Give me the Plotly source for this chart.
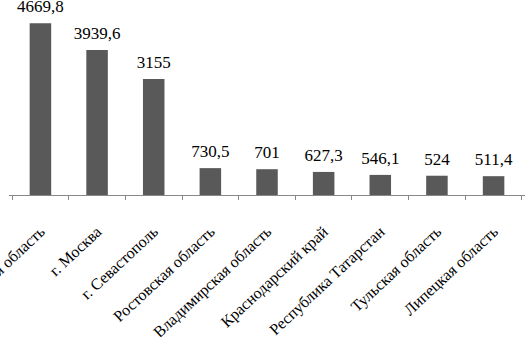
import plotly.graph_objects as go

categories = ["Московская область", "г. Москва", "г. Севастополь", "Ростовская область",
              "Владимирская область", "Краснодарский край", "Республика Татарстан",
              "Тульская область", "Липецкая область"]
values = [4669.8, 3939.6, 3155, 730.5, 701, 627.3, 546.1, 524, 511.4]
value_labels = ["4669,8", "3939,6", "3155", "730,5", "701", "627,3", "546,1", "524", "511,4"]

FONT = "Liberation Serif"

fig = go.Figure()
fig.add_trace(go.Bar(x=categories, y=values, marker=dict(color="#595959", line=dict(width=0)),
                     hoverinfo="skip"))
fig.add_trace(go.Scatter(x=categories, y=values, text=value_labels, mode="markers+text",
                         textposition="top center", cliponaxis=False,
                         marker=dict(size=9, opacity=0), hoverinfo="skip",
                         textfont=dict(family=FONT, size=17, color="black")))

fig.update_layout(
    width=525, height=337,
    margin=dict(l=9, r=0, t=11, b=142, autoexpand=False),
    paper_bgcolor="white", plot_bgcolor="white",
    bargap=0.62,
    showlegend=False,
    xaxis=dict(type="category", tickangle=-43, tickson="boundaries", ticks="outside",
               ticklen=4, tickcolor="#888888", showline=True, linecolor="#888888", linewidth=1,
               tickfont=dict(family=FONT, size=16, color="black"), automargin=False,
               ticklabelstandoff=20, showgrid=False),
    yaxis=dict(range=[0, 5000], visible=False, showgrid=False, zeroline=False),
)

fig.write_html("out.html", config={"displayModeBar": False},
               post_script="document.body.style.margin='0';document.body.style.overflow='hidden';")
